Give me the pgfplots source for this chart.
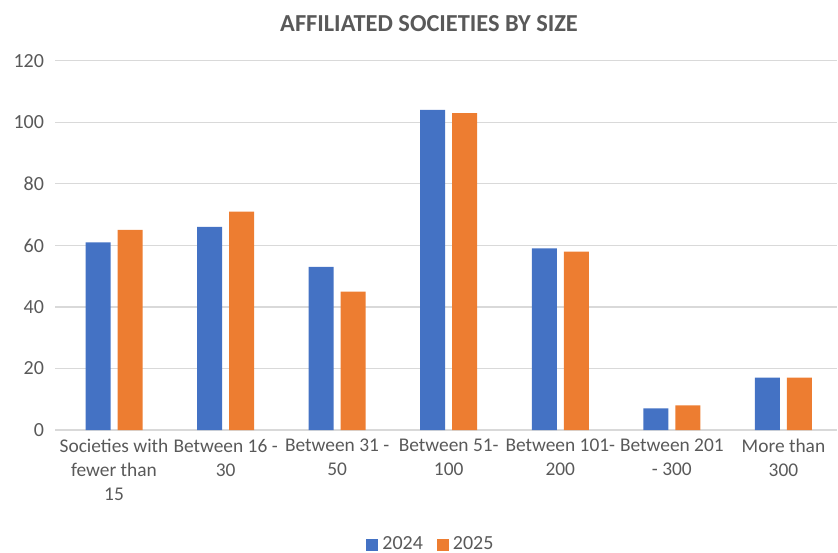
\documentclass[border=0pt]{standalone}
\usepackage{fontspec}
\setmainfont{Carlito}
\usepackage{pgfplots}
\pgfplotsset{compat=1.18}
\definecolor{cblue}{HTML}{4472C4}
\definecolor{corange}{HTML}{ED7D31}
\definecolor{ctext}{HTML}{595959}
\definecolor{cgrid}{HTML}{D9D9D9}
\begin{document}
\begin{tikzpicture}
\begin{axis}[
  scale only axis,
  width=391pt, height=184.65pt,
  ybar=3.5pt, bar width=12.5pt,
  xmin=-0.529, xmax=6.48,
  ymin=0, ymax=120,
  ytick={0,20,...,120},
  xtick={0,...,6},
  xticklabels={{Societies with\\fewer than\\15},{Between 16 -\\30},{Between 31 -\\50},{Between 51-\\100},{Between 101-\\200},{Between 201\\- 300},{More than\\300}},
  x tick label style={align=center, font=\fontsize{9.7}{12}\selectfont, text=ctext, yshift=-1pt},
  y tick label style={font=\fontsize{10}{12}\selectfont, text=ctext, xshift=-2pt},
  /pgf/number format/assume math mode=true,
  ymajorgrids, grid style={cgrid, line width=0.6pt},
  axis x line*=bottom, axis y line*=left,
  x axis line style={cgrid, line width=0.6pt, -},
  y axis line style={draw=none},
  major tick length=0pt,
  legend columns=2,
  legend style={at={(0.482,-0.311)}, anchor=center, draw=none, fill=none, font=\fontsize{10}{12}\selectfont, text=ctext, /tikz/every even column/.append style={column sep=5pt}},
  legend image code/.code={\fill[#1] (0pt,-3pt) rectangle (6pt,3pt);},
]
\addplot[fill=cblue, draw=none] coordinates {(0,61) (1,66) (2,53) (3,104) (4,59) (5,7) (6,17)};
\addplot[fill=corange, draw=none] coordinates {(0,65) (1,71) (2,45) (3,103) (4,58) (5,8) (6,17)};
\legend{2024,2025}
\end{axis}
\node[font=\bfseries\fontsize{12.2}{14}\selectfont, text=ctext] at (187pt,203pt) {AFFILIATED SOCIETIES BY SIZE};
\pgfresetboundingbox
\path (-27.5pt,-61pt) rectangle (391.5pt,215pt);
\end{tikzpicture}
\end{document}
